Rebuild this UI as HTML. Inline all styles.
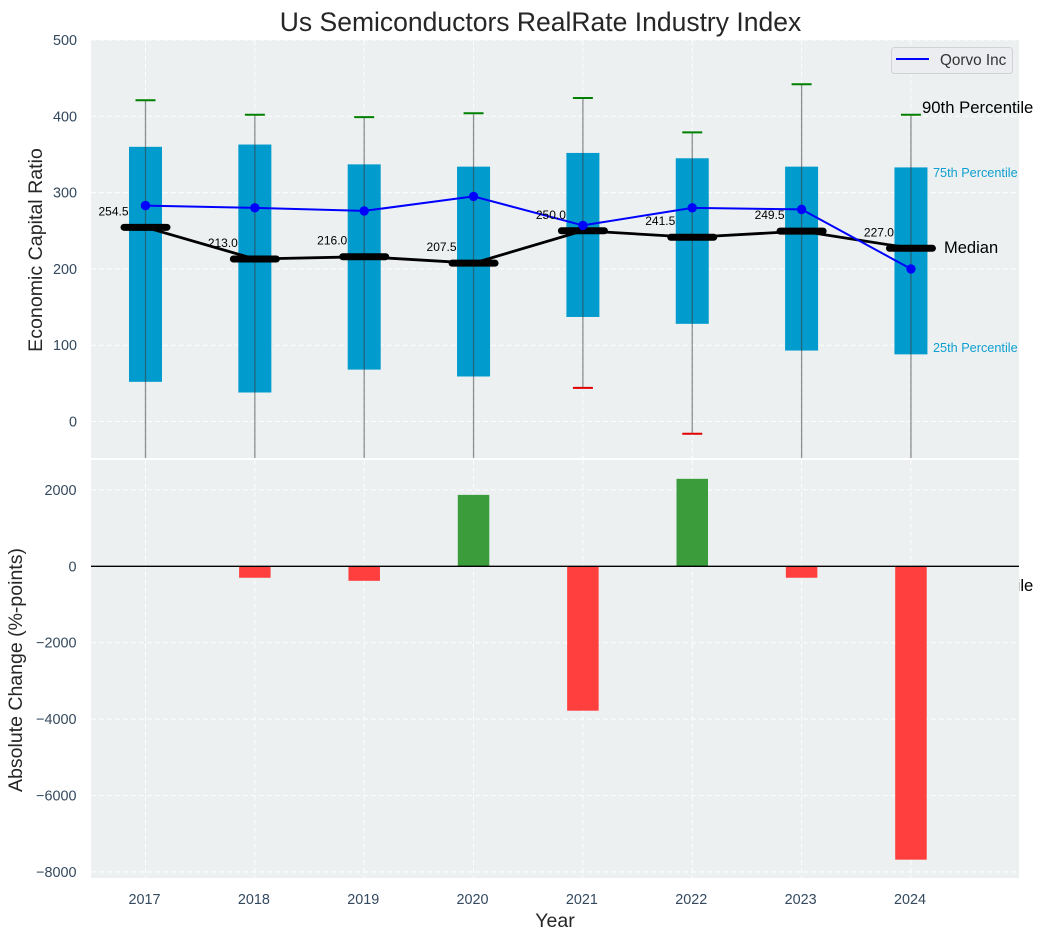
<!DOCTYPE html>
<html lang="en">
<head>
<meta charset="utf-8">
<title>Us Semiconductors RealRate Industry Index</title>
<style>
html,body{margin:0;padding:0;background:#fff;}
svg{display:block;font-family:"Liberation Sans",Arial,sans-serif;}
</style>
</head>
<body>
<svg id="chart" xmlns="http://www.w3.org/2000/svg" width="1043" height="940" viewBox="0 0 1043 940">
  <defs>
    <clipPath id="top-clip"><rect x="91" y="40" width="928" height="418"/></clipPath>
    <clipPath id="bottom-clip"><rect x="91" y="460" width="928" height="418"/></clipPath>
  </defs>
  <rect x="0" y="0" width="1043" height="940" fill="#ffffff"/>
  <text x="540.5" y="31" font-size="26.5" text-anchor="middle" fill="#262626">Us Semiconductors RealRate Industry Index</text>
  <rect x="91" y="40" width="928" height="418" fill="#ecf0f1"/>
  <g id="top-grid"></g>
  <g id="top-marks" clip-path="url(#top-clip)"></g>
  <g id="top-ticks"></g>
  <text transform="translate(42,250) rotate(-90)" font-size="19.6" text-anchor="middle" fill="#262626">Economic Capital Ratio</text>
  <g id="median-labels"></g>
  <text x="922" y="113" font-size="16.7" fill="#000000">90th Percentile</text>
  <text x="933" y="177" font-size="12.7" fill="#0f9fd0">75th Percentile</text>
  <text x="944" y="253" font-size="16.5" fill="#000000">Median</text>
  <text x="933" y="352" font-size="12.7" fill="#0f9fd0">25th Percentile</text>
  <text x="922" y="591" font-size="16.7" fill="#000000">10th Percentile</text>
  <g>
    <rect x="891.5" y="47.5" width="121" height="26" rx="3" fill="#ecedf1" stroke="#d2d2d6" stroke-width="1"/>
    <line x1="896" y1="59" x2="929" y2="59" stroke="#0000ff" stroke-width="2"/>
    <text x="940" y="65" font-size="15.3" fill="#333333">Qorvo Inc</text>
  </g>
  <rect x="91" y="460" width="928" height="418" fill="#ecf0f1"/>
  <g id="bottom-grid"></g>
  <g id="bottom-marks" clip-path="url(#bottom-clip)"></g>
  <line x1="91" y1="566.3" x2="1019" y2="566.3" stroke="#000000" stroke-width="1.3"/>
  <g id="bottom-ticks"></g>
  <g id="x-ticks"></g>
  <text transform="translate(22,670) rotate(-90)" font-size="19.5" text-anchor="middle" fill="#262626">Absolute Change (%-points)</text>
  <text x="555" y="927" font-size="19.5" text-anchor="middle" fill="#262626">Year</text>
</svg>
<script>
const years = [2017, 2018, 2019, 2020, 2021, 2022, 2023, 2024];
const p90 = [421, 402, 399, 404, 424, 379, 442, 402];
const p75 = [360, 363, 337, 334, 352, 345, 334, 333];
const median = [254.5, 213.0, 216.0, 207.5, 250.0, 241.5, 249.5, 227.0];
const p25 = [52, 38, 68, 59, 137, 128, 93, 88];
const p10 = [-80, -80, -80, -80, 44, -16, -80, -80];
const qorvo = [283, 280, 276, 295, 257, 280, 278, 200];
const absoluteChange = [0, -300, -380, 1870, -3780, 2290, -300, -7680];
const topTicks = [0, 100, 200, 300, 400, 500];
const bottomTicks = [2000, 0, -2000, -4000, -6000, -8000];

const NS = 'http://www.w3.org/2000/svg';
const xScale = function (year) { return 145.5 + (year - 2017) * 109.35; };
const yTop = function (v) { return 421.5 - v * 0.763; };
const yBottom = function (v) { return 566.3 - v * 0.0382; };
const BOX_WIDTH = 33;
const BAR_WIDTH = 31.5;
const CAP_WIDTH = 20;
const MEDIAN_WIDTH = 43;

function make(tag, attrs, parent, text) {
  const el = document.createElementNS(NS, tag);
  Object.keys(attrs).forEach(function (k) { el.setAttribute(k, attrs[k]); });
  if (text !== undefined) el.textContent = text;
  parent.appendChild(el);
  return el;
}

const topGrid = document.getElementById('top-grid');
const bottomGrid = document.getElementById('bottom-grid');
const topMarks = document.getElementById('top-marks');
const bottomMarks = document.getElementById('bottom-marks');
const topTickLayer = document.getElementById('top-ticks');
const bottomTickLayer = document.getElementById('bottom-ticks');
const xTickLayer = document.getElementById('x-ticks');
const labelLayer = document.getElementById('median-labels');
const gridStyle = { stroke: '#ffffff', 'stroke-width': 1, 'stroke-dasharray': '5 3', opacity: 0.9 };

topTicks.forEach(function (t) {
  const g = make('line', Object.assign({ x1: 91, x2: 1019, y1: yTop(t), y2: yTop(t) }, gridStyle), topGrid);
  
  
  const l = make('text', { x: 77, y: yTop(t) + 5, 'font-size': 14.4, 'text-anchor': 'end', fill: '#34495e' }, topTickLayer, String(t));
  
  
});

bottomTicks.forEach(function (t) {
  const g = make('line', Object.assign({ x1: 91, x2: 1019, y1: yBottom(t), y2: yBottom(t) }, gridStyle), bottomGrid);
  
  
  const l = make('text', { x: 76.5, y: yBottom(t) + 5, 'font-size': 14.4, 'text-anchor': 'end', fill: '#34495e' }, bottomTickLayer, String(t).replace('-', '\u2212'));
  
  
});

years.forEach(function (y) {
  const x = xScale(y);
  const g1 = make('line', Object.assign({ x1: x, x2: x, y1: 40, y2: 458 }, gridStyle), topGrid);
  
  
  const g2 = make('line', Object.assign({ x1: x, x2: x, y1: 460, y2: 878 }, gridStyle), bottomGrid);
  
  
  const l = make('text', { x: x - 1, y: 904, 'font-size': 14.4, 'text-anchor': 'middle', fill: '#34495e' }, xTickLayer, String(y));
  
  
});

years.forEach(function (y, i) {
  const x = xScale(y);
  const box = make('rect', { x: x - BOX_WIDTH / 2, y: yTop(p75[i]), width: BOX_WIDTH, height: yTop(p25[i]) - yTop(p75[i]), fill: '#019ccd' }, topMarks);
  
  
  const whisker = make('line', { x1: x, x2: x, y1: yTop(p90[i]), y2: yTop(p10[i]), stroke: '#3a3a3a', 'stroke-width': 1.3, opacity: 0.55 }, topMarks);
  
  
  const capHigh = make('line', { x1: x - CAP_WIDTH / 2, x2: x + CAP_WIDTH / 2, y1: yTop(p90[i]), y2: yTop(p90[i]), stroke: '#008000', 'stroke-width': 2 }, topMarks);
  
  
  const capLow = make('line', { x1: x - CAP_WIDTH / 2, x2: x + CAP_WIDTH / 2, y1: yTop(p10[i]), y2: yTop(p10[i]), stroke: '#e00000', 'stroke-width': 2 }, topMarks);
  
  
});

const medianPath = make('polyline', {
  points: years.map(function (y, i) { return xScale(y) + ',' + yTop(median[i]); }).join(' '),
  fill: 'none', stroke: '#000000', 'stroke-width': 2.8
}, topMarks);



years.forEach(function (y, i) {
  const x = xScale(y);
  const bar = make('line', { x1: x - MEDIAN_WIDTH / 2, x2: x + MEDIAN_WIDTH / 2, y1: yTop(median[i]), y2: yTop(median[i]), stroke: '#000000', 'stroke-width': 7, 'stroke-linecap': 'round' }, topMarks);
  
  
  const label = make('text', { x: x - 32, y: yTop(median[i]) - 12, 'font-size': 12, 'text-anchor': 'middle', fill: '#000000' }, labelLayer, median[i].toFixed(1));
  
  
});

const qorvoPath = make('polyline', {
  points: years.map(function (y, i) { return xScale(y) + ',' + yTop(qorvo[i]); }).join(' '),
  fill: 'none', stroke: '#0000ff', 'stroke-width': 2
}, topMarks);



years.forEach(function (y, i) {
  const dot = make('circle', { cx: xScale(y), cy: yTop(qorvo[i]), r: 4.7, fill: '#0000ff' }, topMarks);
  
  
  const v = absoluteChange[i];
  const top = Math.min(yBottom(v), yBottom(0));
  const h = Math.abs(yBottom(v) - yBottom(0));
  const bar = make('rect', { x: xScale(y) - BAR_WIDTH / 2, y: top, width: BAR_WIDTH, height: h, fill: v >= 0 ? '#3b9c3b' : '#ff3e3e' }, bottomMarks);
  
  
});
</script>
</body>
</html>
